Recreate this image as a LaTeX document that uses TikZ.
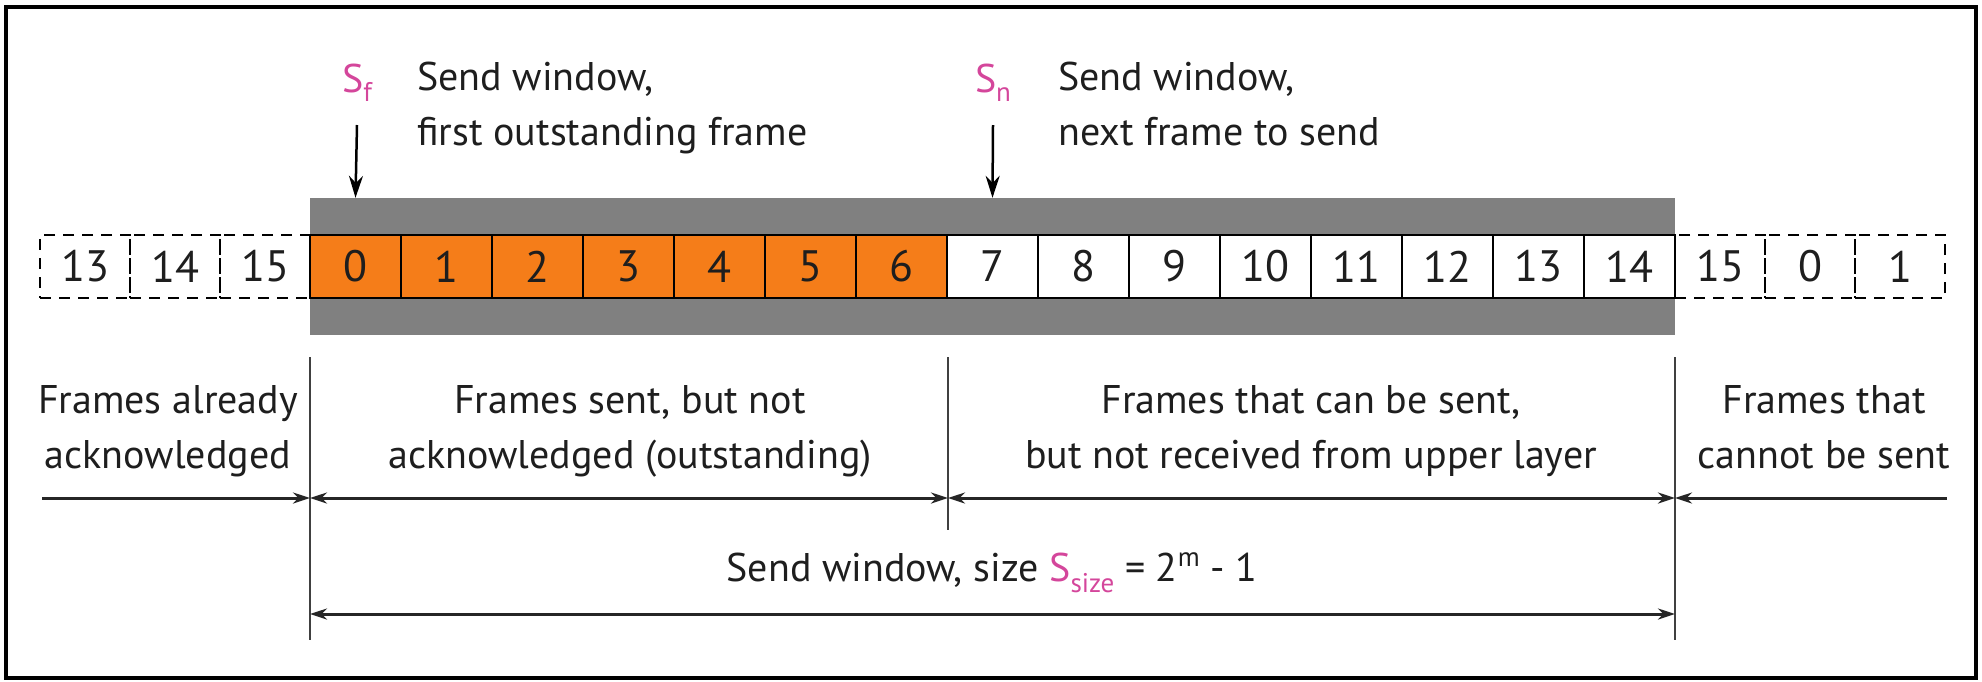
\documentclass[tikz,border=0pt]{standalone}
\usepackage{fontspec}
\setmainfont{PT Sans}
\usetikzlibrary{arrows.meta}
\definecolor{frameorange}{RGB}{245,125,25}
\definecolor{bandgray}{RGB}{128,128,128}
\definecolor{pointermag}{RGB}{212,70,155}
\definecolor{inkdark}{RGB}{30,30,30}
\newcommand{\lblfont}{\fontsize{40}{55}\selectfont}
\newcommand{\subfont}{\fontsize{27}{27}\selectfont}
\begin{document}
\begin{tikzpicture}[x=1pt,y=-1pt,
  cellbox/.style={draw=black, line width=2.5pt, minimum width=91pt, minimum height=63pt, inner sep=0pt, font=\fontsize{44}{50}\selectfont, text=inkdark},
  dashcell/.style={draw=black, line width=2.5pt, dash pattern=on 11pt off 8pt, minimum width=90pt, minimum height=63pt, inner sep=0pt, font=\fontsize{44}{50}\selectfont, text=inkdark},
  lbl/.style={font=\lblfont, text=inkdark, inner sep=0pt, align=center, anchor=base},
  sepline/.style={draw=black!75, line width=2pt},
  dimarrow/.style={draw=black!85, line width=3pt, arrows={-Stealth[length=17pt,width=11pt]}},
  dimboth/.style={draw=black!85, line width=3pt, arrows={Stealth[length=17pt,width=11pt]-Stealth[length=17pt,width=11pt]}},
  ptr/.style={draw=black, line width=2.5pt, arrows={-Stealth[length=22pt,width=14pt]}}]
\useasboundingbox (0,0) rectangle (1982,681);
% outer frame
\draw[line width=3.5pt] (6,7) rectangle (1976,678);
% gray send-window band
\node[fill=bandgray, minimum width=1365pt, minimum height=137pt, inner sep=0pt] (band) at (992.5,266.5) {};
% frames in window
\foreach \i in {0,...,6}
  \node[cellbox, fill=frameorange] (c\i) at ({355.5+91*\i},266.5) {\i};
\foreach \i in {7,...,14}
  \node[cellbox, fill=white] (c\i) at ({355.5+91*\i},266.5) {\i};
% frames outside window
\node[dashcell] (l13) at (85,266.5) {13};
\node[dashcell] (l14) at (175,266.5) {14};
\node[dashcell] (l15) at (265,266.5) {15};
\node[dashcell] (r15) at (1720,266.5) {15};
\node[dashcell] (r0) at (1810,266.5) {0};
\node[dashcell] (r1) at (1900,266.5) {1};
% pointers
\node[lbl, text=pointermag] (sf) at (357,92) {S\raisebox{-9pt}{\subfont f}};
\node[lbl, text=pointermag] (sn) at (993,92) {S\raisebox{-9pt}{\subfont n}};
\draw[ptr] (357,125) -- (c0.north |- band.north);
\draw[ptr] (993,125) -- (c7.north |- band.north);
\node[lbl, align=left, anchor=base west] (sftext) at (417,145) {Send window,\\first outstanding frame};
\node[lbl, align=left, anchor=base west] (sntext) at (1058,145) {Send window,\\next frame to send};
% separators
\coordinate (sA1) at (310,357); \coordinate (sA2) at (310,640);
\coordinate (sB1) at (948,357); \coordinate (sB2) at (948,530);
\coordinate (sC1) at (1675,357); \coordinate (sC2) at (1675,640);
\draw[sepline] (sA1) -- (sA2);
\draw[sepline] (sB1) -- (sB2);
\draw[sepline] (sC1) -- (sC2);
% region labels
\node[lbl] (t1) at (168,468) {Frames already\\acknowledged};
\node[lbl] (t2) at (630,468) {Frames sent, but not\\acknowledged (outstanding)};
\node[lbl] (t3) at (1311,468) {Frames that can be sent,\\but not received from upper layer};
\node[lbl] (t4) at (1824,468) {Frames that\\cannot be sent};
% dimension arrows
\coordinate (aL) at (42,498); \coordinate (aA) at (310,498); \coordinate (aB) at (948,498);
\coordinate (aC) at (1675,498); \coordinate (aR) at (1947,498);
\draw[dimarrow] (aL) -- (aA);
\draw[dimboth] (aA) -- (aB);
\draw[dimboth] (aB) -- (aC);
\draw[dimarrow] (aR) -- (aC);
\node[lbl] (sizetext) at (992,581) {Send window, size {\color{pointermag}S\raisebox{-11pt}{\subfont size}} = 2\raisebox{15pt}{\subfont m} - 1};
\coordinate (bA) at (310,614); \coordinate (bC) at (1675,614);
\draw[dimboth] (bA) -- (bC);
\end{tikzpicture}
\end{document}
